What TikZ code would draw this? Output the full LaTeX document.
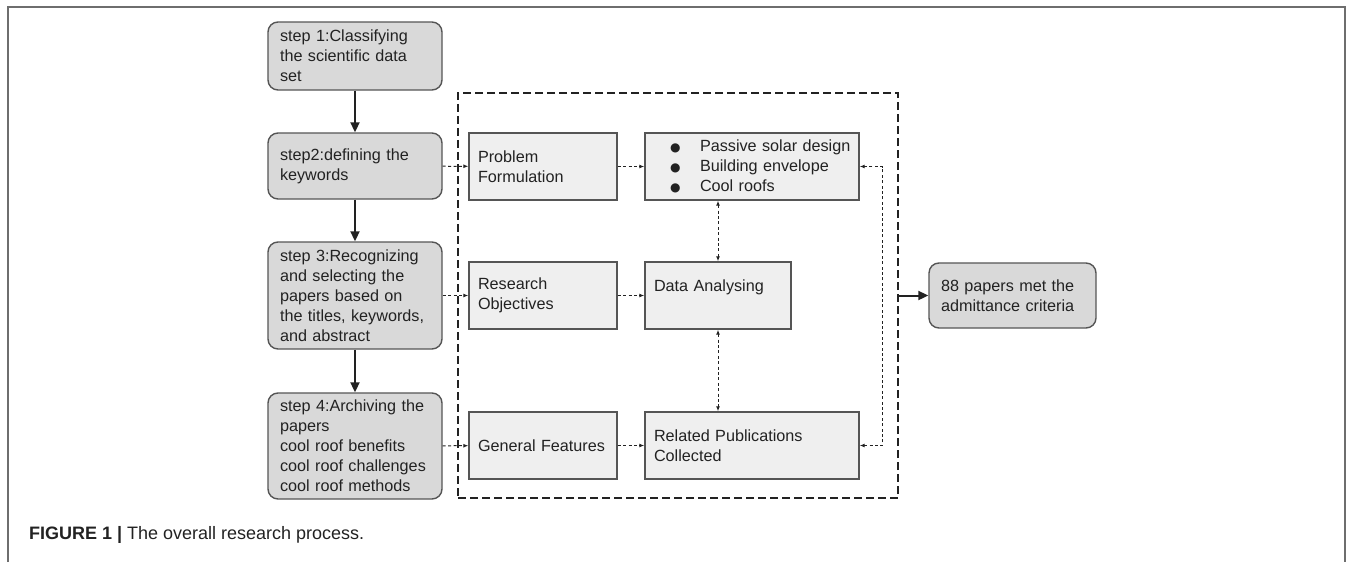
\documentclass[tikz,border=0pt]{standalone}
\usepackage{fontspec}
\setmainfont{Liberation Sans}
\newfontfamily\symfont{DejaVu Sans}
\usepackage{tikz}
\usetikzlibrary{arrows.meta}
\definecolor{stepfill}{HTML}{D9D9D9}
\definecolor{boxfill}{HTML}{EFEFEF}
\definecolor{edge}{HTML}{555555}
\definecolor{ink}{HTML}{222222}
\definecolor{framegray}{HTML}{6E6E6E}
\hyphenpenalty=10000
\newcommand{\blt}[1]{\mbox{\makebox[23pt][l]{\hspace{8pt}{\symfont\fontsize{6}{10}\selectfont ●}}#1}}

\begin{document}
\begin{tikzpicture}[x=0.5pt, y=-0.5pt,
    every node/.style={font=\fontsize{8.1}{10}\selectfont, text=ink},
    stepbox/.style ={draw=edge, line width=0.7pt, fill=stepfill, rounded corners=5pt,
        minimum width=87pt, text width=75pt, inner xsep=6pt, align=left},
    plainbox/.style ={draw=edge, line width=0.7pt, fill=boxfill,
        inner xsep=4.5pt, minimum height=33.5pt, align=left},
    flow/.style ={line width=1pt, draw=ink, -{Triangle[length=5pt,width=4.5pt]}},
    dotted link/.style ={line width=0.5pt, draw=ink, dash pattern=on 1.5pt off 1.2pt,
        -{Latex[length=2.5pt,width=2pt]}},
    both ends/.style ={{Latex[length=2.5pt,width=2pt]}-{Latex[length=2.5pt,width=2pt]}}]
   \useasboundingbox (0,0) rectangle (1354,562);
   \draw[framegray, line width=1pt] (8,562) -- (8,7) -- (1345,7) -- (1345,562);

   \node[stepbox, minimum height=34pt] (S1) at (355,56) {step 1:Classifying\\the scientific data\\set};
   \node[stepbox, minimum height=33pt] (S2) at (355,166) {step2:defining the\\keywords};
   \node[stepbox, minimum height=53.5pt] (S3) at (355,295.5) {step 3:Recognizing\\and selecting the\\papers based on\\the titles, keywords,\\and abstract};
   \node[stepbox, minimum height=53pt] (S4) at (355,446) {step 4:Archiving the\\papers\\cool roof benefits\\cool roof challenges\\cool roof methods};

   \node[draw=ink, line width=0.55pt, dash pattern=on 4pt off 2pt, minimum width=220pt, minimum height=202.5pt] (G) at (678,295.5) {};

   \node[plainbox, minimum width=74pt, text width=65pt] (PF) at (543,166.5) {Problem\\Formulation};
   \node[plainbox, minimum width=74pt, text width=65pt] (RO) at (543,295.5) {Research\\Objectives};
   \node[plainbox, minimum width=74pt, text width=65pt] (GF) at (543,445.5) {General Features};
   \node[plainbox, minimum width=107pt, text width=98pt] (BL) at (752,166.5) {%
      \blt{Passive solar design}\\
      \blt{Building envelope}\\
      \blt{Cool roofs}};
   \node[plainbox, minimum width=73pt, text width=64pt] (DA) at (718,295.5) {Data Analysing\\\mbox{}};
   \node[plainbox, minimum width=107pt, text width=98pt] (RP) at (752,445.5) {Related Publications\\Collected};

   \node[stepbox, minimum width=83.5pt, text width=71.5pt, minimum height=32.5pt] (R) at (1012.5,295.5) {88 papers met the\\admittance criteria};

   \draw[flow] (S1) to (S2);
   \draw[flow] (S2) to (S3);
   \draw[flow] (S3) to (S4);
   \draw[flow] (G.east) to (R);

   \draw[dotted link] (S2) to (PF);
   \draw[dotted link] (S3) to (RO);
   \draw[dotted link] (S4) to (GF);
   \draw[dotted link] (PF) to (BL);
   \draw[dotted link] (RO) to (DA);
   \draw[dotted link] (GF) to (RP);
   \draw[dotted link, both ends] (DA.north |- BL.south) -- (DA.north);
   \draw[dotted link, both ends] (DA.south) -- (DA.south |- RP.north);
   \draw[dotted link, both ends] (RP.east) -- ++(23,0) |- (BL.east);

   \node[anchor=west, font=\fontsize{9}{11}\selectfont] (cap) at (22,535) {\textbf{FIGURE 1 |} The overall research process.};
 \end{tikzpicture}
\end{document}
